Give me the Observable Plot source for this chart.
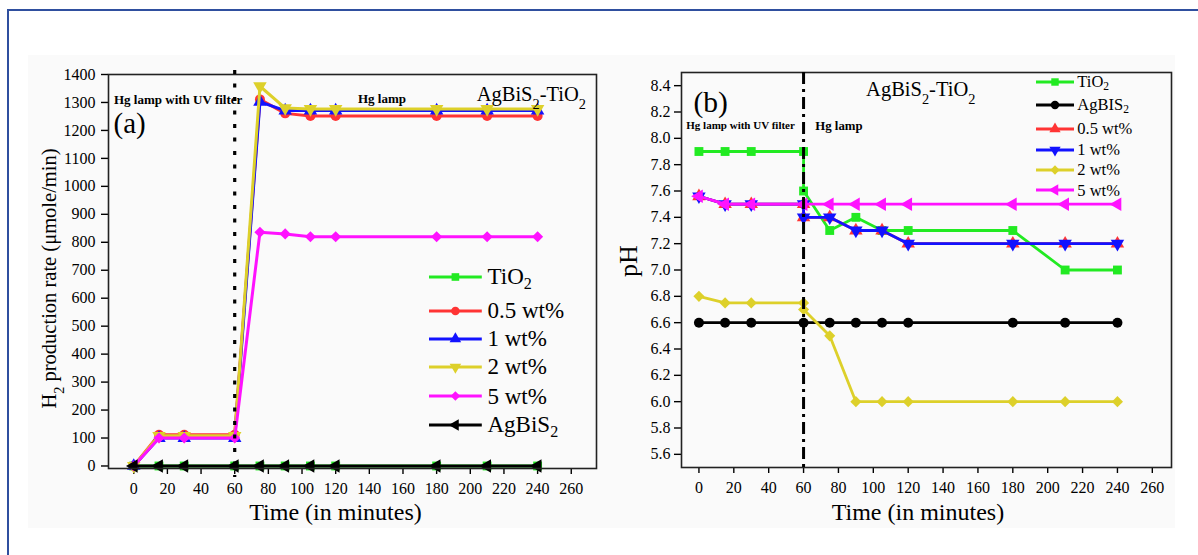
<!DOCTYPE html>
<html><head><meta charset="utf-8">
<script src="https://cdn.jsdelivr.net/npm/d3@7"></script>
<script src="https://cdn.jsdelivr.net/npm/@observablehq/plot@0.6"></script>
<style>
body{margin:0;background:#fff;}
#wrap{position:relative;width:1198px;height:555px;overflow:hidden;background:#fff;font-family:"Liberation Serif","Times New Roman",serif;color:#000;}
.abs{position:absolute;}
.lgtext{position:absolute;white-space:nowrap;line-height:1.2;font-family:"Liberation Serif","Times New Roman",serif;}
.lgtext sub{font-size:70%;line-height:0;vertical-align:-0.28em;}
</style></head>
<body><div id="wrap"></div>
<script>
// ---------- DATA ----------
const timeTicks = [0, 20, 40, 60, 80, 100, 120, 140, 160, 180, 200, 220, 240, 260];
const rateTicks = [0, 100, 200, 300, 400, 500, 600, 700, 800, 900, 1000, 1100, 1200, 1300, 1400];
const pHTicks = [5.6, 5.8, 6.0, 6.2, 6.4, 6.6, 6.8, 7.0, 7.2, 7.4, 7.6, 7.8, 8.0, 8.2, 8.4];
const lampSwitchTime = [60];

// Panel (a): H2 production rate
const namesA = ["TiO₂", "0.5 wt%", "1 wt%", "2 wt%", "5 wt%", "AgBiS₂"];
const timeA = [0, 15, 30, 60, 75, 90, 105, 120, 180, 210, 240];
const rateTiO2 = [0, 0, 0, 0, 0, 0, 0, 0, 0, 0, 0];
const rate05 = [0, 112, 112, 112, 1311, 1261, 1252, 1252, 1252, 1252, 1252];
const rate1 = [0, 100, 100, 100, 1302, 1271, 1271, 1271, 1271, 1271, 1271];
const rate2 = [0, 108, 108, 108, 1358, 1280, 1277, 1277, 1277, 1277, 1277];
const rate5 = [0, 100, 100, 100, 836, 830, 820, 820, 820, 820, 820];
const rateAgBiS2 = [0, 0, 0, 0, 0, 0, 0, 0, 0, 0, 0];

// Panel (b): pH
const namesB = ["TiO₂", "AgBIS₂", "0.5 wt%", "1 wt%", "2 wt%", "5 wt%"];
const timeB = [0, 15, 30, 60, 75, 90, 105, 120, 180, 210, 240];
const timeBSplit = [0, 15, 30, 60, 60, 75, 90, 105, 120, 180, 210, 240];
const phTiO2 = [7.9, 7.9, 7.9, 7.9, 7.6, 7.3, 7.4, 7.3, 7.3, 7.3, 7.0, 7.0];
const phAgBiS2 = [6.6, 6.6, 6.6, 6.6, 6.6, 6.6, 6.6, 6.6, 6.6, 6.6, 6.6];
const ph05 = [7.56, 7.5, 7.5, 7.5, 7.4, 7.4, 7.3, 7.3, 7.2, 7.2, 7.2, 7.2];
const ph1 = [7.56, 7.5, 7.5, 7.5, 7.4, 7.4, 7.3, 7.3, 7.2, 7.2, 7.2, 7.2];
const ph2 = [6.8, 6.75, 6.75, 6.75, 6.7, 6.5, 6.0, 6.0, 6.0, 6.0, 6.0, 6.0];
const ph5 = [7.56, 7.5, 7.5, 7.5, 7.5, 7.5, 7.5, 7.5, 7.5, 7.5, 7.5];

// ---------- STYLES ----------
const C = {green: "#22ea22", red: "#ff3434", blue: "#1212ff", yellow: "#ddd02a", magenta: "#ff12ff", black: "#000"};
const FONT = "'Liberation Serif', 'Times New Roman', serif";

const seriesA = [
  {name: namesA[0], t: timeA, v: rateTiO2, color: C.green, symbol: "square", rotate: 0},
  {name: namesA[1], t: timeA, v: rate05, color: C.red, symbol: "circle", rotate: 0},
  {name: namesA[2], t: timeA, v: rate1, color: C.blue, symbol: "triangle", rotate: 0},
  {name: namesA[3], t: timeA, v: rate2, color: C.yellow, symbol: "triangle", rotate: 180},
  {name: namesA[4], t: timeA, v: rate5, color: C.magenta, symbol: "diamond2", rotate: 0},
  {name: namesA[5], t: timeA, v: rateAgBiS2, color: C.black, symbol: "triangle", rotate: -90}
];
const seriesB = [
  {name: namesB[0], t: timeBSplit, v: phTiO2, color: C.green, symbol: "square", rotate: 0},
  {name: namesB[1], t: timeB, v: phAgBiS2, color: C.black, symbol: "circle", rotate: 0},
  {name: namesB[2], t: timeBSplit, v: ph05, color: C.red, symbol: "triangle", rotate: 0},
  {name: namesB[3], t: timeBSplit, v: ph1, color: C.blue, symbol: "triangle", rotate: 180},
  {name: namesB[4], t: timeBSplit, v: ph2, color: C.yellow, symbol: "diamond2", rotate: 0},
  {name: namesB[5], t: timeB, v: ph5, color: C.magenta, symbol: "triangle", rotate: -90}
];

function seriesMarks(s, r, sw) {
  const d = s.t.map((t, i) => ({t, v: s.v[i]}));
  return [
    Plot.line(d, {x: "t", y: "v", stroke: s.color, strokeWidth: sw, strokeLinejoin: "round"}),
    Plot.dot(d, {x: "t", y: "v", fill: s.color, stroke: "none", symbol: s.symbol, rotate: s.rotate, r})
  ];
}
function label(txt, o) {
  return Plot.text([txt], Object.assign({text: d => d, lineAnchor: "middle", fill: "#000"}, o));
}

const wrap = document.getElementById("wrap");
function addDiv(css) { const el = document.createElement("div"); el.className = "abs"; el.style.cssText = css; wrap.appendChild(el); return el; }

// background decorations
addDiv("left:28px;top:55px;width:1147px;height:473px;background:#fafafa;");
addDiv("left:7px;top:9px;width:1191px;height:1.6px;background:#2f4f9f;");
addDiv("left:7px;top:9px;width:1.6px;height:546px;background:#2f4f9f;");

// ---------- PANEL A ----------
const plotA = Plot.plot({
  width: 600, height: 555,
  marginLeft: 108, marginTop: 74, marginRight: 4, marginBottom: 87,
  x: {domain: [-15, 275]},
  y: {domain: [-9, 1400]},
  style: {background: "transparent", fontFamily: FONT, fontSize: "16px", color: "#000", overflow: "visible"},
  marks: [
    Plot.axisY({ticks: rateTicks, tickSize: 7, tickPadding: 6, tickFormat: d3.format("d"), label: null, strokeWidth: 1.4}),
    Plot.axisX({ticks: timeTicks, tickSize: 6, tickPadding: 8, tickFormat: d3.format("d"), label: null, strokeWidth: 1.4}),
    ...seriesA.flatMap(s => seriesMarks(s, 5, 3)),
    Plot.frame({stroke: "#222", strokeWidth: 1.6}),
    Plot.ruleX(lampSwitchTime, {stroke: "#000", strokeWidth: 3.2, strokeDasharray: "4,9.5", insetTop: -4, insetBottom: -9}),
    label("Hg lamp with UV filter", {frameAnchor: "top-left", dx: 5.5, dy: 25, textAnchor: "start", fontWeight: "bold", fontSize: 13}),
    label("Hg lamp", {frameAnchor: "top-left", dx: 249.5, dy: 24, textAnchor: "start", fontWeight: "bold", fontSize: 13}),
    label("(a)", {frameAnchor: "top-left", dx: 5, dy: 49, textAnchor: "start", fontSize: 29}),
    label("AgBiS₂-TiO₂", {frameAnchor: "top-right", dx: -10.5, dy: 20, textAnchor: "end", fontSize: 20.5}),
    label("Time (in minutes)", {frameAnchor: "bottom", dx: -17, dy: 43.5, textAnchor: "middle", fontSize: 24}),
    label("H₂ production rate (μmole/min)", {frameAnchor: "left", dx: -59, dy: 7, rotate: -90, textAnchor: "middle", fontSize: 20.5})
  ]
});

// ---------- PANEL B ----------
const plotB = Plot.plot({
  width: 598, height: 555,
  marginLeft: 81, marginTop: 72, marginRight: 27, marginBottom: 88,
  x: {domain: [-10, 271]},
  y: {domain: [5.5, 8.5]},
  style: {background: "transparent", fontFamily: FONT, fontSize: "16px", color: "#000", overflow: "visible"},
  marks: [
    Plot.axisY({ticks: pHTicks, tickSize: 7, tickPadding: 4, tickFormat: d => d.toFixed(1), label: null, strokeWidth: 1.4}),
    Plot.axisX({ticks: timeTicks, tickSize: 6, tickPadding: 8, tickFormat: d3.format("d"), label: null, strokeWidth: 1.4}),
    ...seriesB.flatMap(s => seriesMarks(s, 5, 2.8)),
    Plot.frame({stroke: "#222", strokeWidth: 1.6}),
    Plot.ruleX(lampSwitchTime, {stroke: "#000", strokeWidth: 3, strokeDasharray: "12,5,3,5"}),
    label("(b)", {frameAnchor: "top-left", dx: 12, dy: 30.5, textAnchor: "start", fontSize: 29.5}),
    label("Hg lamp with UV filter", {frameAnchor: "top-left", dx: 4.8, dy: 53, textAnchor: "start", fontWeight: "bold", fontSize: 11}),
    label("Hg lamp", {frameAnchor: "top-left", dx: 133.8, dy: 53, textAnchor: "start", fontWeight: "bold", fontSize: 12.8}),
    label("AgBiS₂-TiO₂", {frameAnchor: "top-left", dx: 184.6, dy: 16.5, textAnchor: "start", fontSize: 20.5}),
    label("Time (in minutes)", {frameAnchor: "bottom", dx: -8.6, dy: 45, textAnchor: "middle", fontSize: 24}),
    label("pH", {frameAnchor: "left", dx: -52.6, dy: -9, rotate: -90, textAnchor: "middle", fontSize: 26})
  ]
});

// real subscripts for "₂"
function subscriptify(svg) {
  svg.querySelectorAll("text").forEach(t => {
    if (t.children.length === 0 && t.textContent.includes("₂")) {
      const parts = t.textContent.split("₂");
      t.textContent = "";
      parts.forEach((p, i) => {
        if (p) t.appendChild(document.createTextNode(p));
        if (i < parts.length - 1) {
          const ts = document.createElementNS("http://www.w3.org/2000/svg", "tspan");
          ts.setAttribute("baseline-shift", "sub");
          ts.setAttribute("font-size", "70%");
          ts.textContent = "2";
          t.appendChild(ts);
        }
      });
    }
  });
}
subscriptify(plotA); subscriptify(plotB);

const boxA = addDiv("left:0;top:0;width:600px;height:555px;");
boxA.appendChild(plotA);
const boxB = addDiv("left:600px;top:0;width:598px;height:555px;");
boxB.appendChild(plotB);

// ---------- LEGENDS ----------
const symbolTypes = {square: d3.symbolSquare, circle: d3.symbolCircle, triangle: d3.symbolTriangle, diamond2: d3.symbolDiamond2};
function drawLegend(series, L) {
  series.forEach((s, i) => {
    const y = L.rows[i];
    const w = L.x1 - L.x0, h = 20;
    const box = addDiv(`left:${L.x0}px;top:${y - h / 2}px;width:${w}px;height:${h}px;`);
    const svg = d3.create("svg").attr("width", w).attr("height", h).style("overflow", "visible").style("display", "block");
    svg.append("line").attr("x1", 0).attr("x2", w).attr("y1", h / 2).attr("y2", h / 2)
      .attr("stroke", s.color).attr("stroke-width", L.sw);
    svg.append("path").attr("d", d3.symbol(symbolTypes[s.symbol], Math.PI * L.r * L.r)())
      .attr("transform", `translate(${w / 2},${h / 2}) rotate(${s.rotate})`).attr("fill", s.color);
    box.appendChild(svg.node());
    const tx = document.createElement("div");
    tx.className = "lgtext";
    tx.style.left = L.textX + "px";
    tx.style.top = (y - 0.6 * L.fontSize) + "px";
    tx.style.fontSize = L.fontSize + "px";
    tx.innerHTML = s.name.replace(/₂/g, "<sub>2</sub>");
    wrap.appendChild(tx);
  });
}
drawLegend(seriesA, {x0: 429.4, x1: 482.2, textX: 487.5, rows: [276.5, 310.8, 339, 367, 396.3, 424.5], fontSize: 23, r: 4.3, sw: 3});
drawLegend(seriesB, {x0: 1036, x1: 1074, textX: 1077.3, rows: [82.2, 105, 129, 150, 170.3, 190.4], fontSize: 16.5, r: 4.2, sw: 3});
</script>
</body></html>
